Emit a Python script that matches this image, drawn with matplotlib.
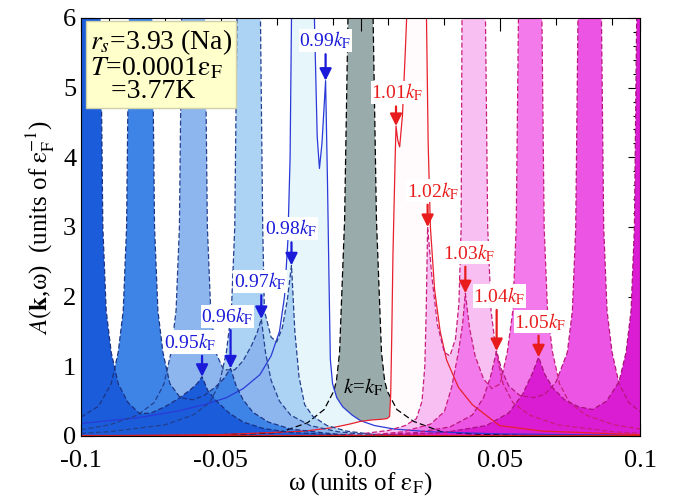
import matplotlib
matplotlib.use("Agg")
import matplotlib.pyplot as plt
from matplotlib.ticker import MultipleLocator, FixedLocator, FixedFormatter

plt.rcParams['font.family'] = ['Liberation Serif', 'DejaVu Serif']
plt.rcParams['mathtext.fontset'] = 'stix'

# spectral functions A(k, w), one per k
w95 = [-0.1, -0.0972, -0.0930, -0.0922, -0.0910, -0.0892, -0.0867, -0.0832, -0.0790, -0.0750, -0.0700,
       -0.0650, -0.0610, -0.0585, -0.0567, -0.0545, -0.0515, -0.0470, -0.0420, -0.0350, -0.0250, -0.0100, 0.0]
a95 = [12, 16, 6.0, 3.0, 1.8, 1.2, 0.75, 0.48, 0.32, 0.33, 0.42,
       0.54, 0.66, 0.75, 0.85, 0.64, 0.50, 0.33, 0.20, 0.11, 0.05, 0.02, 0.0]

w96 = [-0.1, -0.0937, -0.0892, -0.0867, -0.0849, -0.0837, -0.0829, -0.0787, -0.0745, -0.0737, -0.0725,
       -0.0707, -0.0682, -0.0645, -0.0600, -0.0560, -0.0520, -0.0490, -0.0465, -0.0445, -0.0420, -0.0385,
       -0.0330, -0.0250, -0.0120, 0.0]
a96 = [0.27, 0.43, 0.75, 1.2, 1.8, 3.0, 6.0, 16, 6.0, 3.0, 1.8,
       1.2, 0.75, 0.55, 0.52, 0.58, 0.70, 0.82, 0.97, 0.72, 0.52, 0.34,
       0.20, 0.10, 0.04, 0.0]

w97 = [-0.1, -0.0898, -0.0798, -0.0738, -0.0703, -0.0678, -0.0660, -0.0648, -0.0640, -0.0598, -0.0556,
       -0.0548, -0.0536, -0.0518, -0.0490, -0.0450, -0.0420, -0.0390, -0.0370, -0.0355, -0.0340, -0.0320,
       -0.0290, -0.0250, -0.0180, -0.0080, 0.0, 0.02]
a97 = [0.09, 0.16, 0.30, 0.48, 0.75, 1.2, 1.8, 3.0, 6.0, 16, 6.0,
       3.0, 1.8, 1.2, 0.95, 0.95, 1.08, 1.30, 1.48, 1.68, 1.20, 0.80,
       0.50, 0.30, 0.15, 0.06, 0.03, 0.0]

w98 = [-0.1, -0.09, -0.07, -0.060, -0.054, -0.0505, -0.0480, -0.0462, -0.0450, -0.0442, -0.0400,
       -0.0358, -0.0350, -0.0344, -0.0320, -0.0300, -0.0280, -0.0262, -0.0247, -0.0235, -0.0220,
       -0.0200, -0.0170, -0.0120, -0.0050, 0.0050, 0.0200]
a98 = [0.04, 0.06, 0.16, 0.30, 0.48, 0.75, 1.2, 1.8, 3.0, 6.0, 16,
       6.0, 3.0, 1.8, 1.42, 1.35, 1.55, 1.95, 2.45, 1.50, 0.85,
       0.45, 0.28, 0.15, 0.07, 0.02, 0.0]

w99 = [-0.1, -0.08, -0.065, -0.055, -0.048, -0.042, -0.036, -0.032, -0.029, -0.0272, -0.0260,
       -0.0252, -0.0247, -0.0205, -0.0165, -0.0155, -0.0147, -0.0138, -0.0125, -0.0118, -0.0113,
       -0.0108, -0.0100, -0.0085, -0.0064, -0.0030, 0.0, 0.005, 0.012, 0.025, 0.05, 0.1]
a99 = [0.18, 0.26, 0.36, 0.46, 0.55, 0.68, 0.88, 1.15, 1.5, 2.0, 2.8,
       4.0, 6.0, 16, 6.0, 4.3, 3.84, 4.2, 5.1, 3.6, 2.3,
       1.1, 0.75, 0.55, 0.42, 0.30, 0.22, 0.15, 0.10, 0.06, 0.03, 0.01]

w100 = [-0.1, -0.06, -0.04, -0.029, -0.019, -0.013, -0.0095, -0.0086, -0.0075, -0.0057, -0.0045, 0.0,
        0.0045, 0.0057, 0.0075, 0.0086, 0.0095, 0.013, 0.019, 0.029, 0.04, 0.06, 0.1]
a100 = [0.0, 0.01, 0.03, 0.05, 0.19, 0.38, 0.65, 0.8, 1.2, 3.1, 6.0, 16,
        6.0, 3.1, 1.2, 0.8, 0.65, 0.38, 0.21, 0.06, 0.03, 0.01, 0.0]

w101 = [-0.1, -0.05, -0.02, -0.01, -0.004, 0.0, 0.004, 0.0075, 0.0095, 0.0104, 0.0108, 0.0112,
        0.0116, 0.0120, 0.0124, 0.0127, 0.0133, 0.0140, 0.0150, 0.0160, 0.0165, 0.0197, 0.0236,
        0.0242, 0.0250, 0.0265, 0.0285, 0.0308, 0.035, 0.040, 0.0497, 0.065, 0.1]
a101 = [0.0, 0.02, 0.07, 0.12, 0.17, 0.21, 0.23, 0.24, 0.25, 0.28, 0.6, 1.5,
        2.6, 3.3, 4.0, 4.45, 4.25, 4.15, 4.6, 5.5, 6.0, 16, 6.0,
        4.2, 3.0, 2.1, 1.5, 1.09, 0.70, 0.45, 0.15, 0.07, 0.02]

w102 = [-0.02, 0.0, 0.01, 0.016, 0.0200, 0.0220, 0.0230, 0.0235, 0.0240, 0.0255, 0.0275, 0.0300,
        0.0320, 0.0340, 0.0352, 0.0360, 0.0363, 0.0405, 0.0447, 0.0455, 0.0467, 0.0485, 0.0510,
        0.0545, 0.0605, 0.0705, 0.0905, 0.1]
a102 = [0.0, 0.03, 0.08, 0.15, 0.25, 0.5, 1.0, 1.8, 3.0, 2.3, 1.6, 1.2,
        1.15, 1.4, 1.9, 3.0, 6.0, 16, 6.0, 3.0, 1.8, 1.2, 0.75,
        0.48, 0.30, 0.16, 0.06, 0.04]

w103 = [0.0, 0.015, 0.025, 0.030, 0.0326, 0.0350, 0.0365, 0.0375, 0.0390, 0.0410, 0.0440, 0.0470,
        0.0500, 0.0525, 0.0545, 0.0557, 0.0565, 0.0607, 0.0649, 0.0657, 0.0669, 0.0687, 0.0712,
        0.0747, 0.0807, 0.0907, 0.1]
a103 = [0.0, 0.06, 0.17, 0.35, 0.7, 1.2, 1.6, 2.05, 1.55, 1.15, 0.82, 0.68,
        0.75, 1.2, 1.8, 3.0, 6.0, 16, 6.0, 3.0, 1.8, 1.2, 0.75,
        0.48, 0.30, 0.16, 0.10]

w104 = [0.0, 0.02, 0.032, 0.040, 0.044, 0.0465, 0.0487, 0.0505, 0.0530, 0.0570, 0.0620, 0.0660,
        0.0700, 0.0740, 0.0758, 0.0770, 0.0778, 0.0820, 0.0862, 0.0870, 0.0882, 0.0900, 0.0925,
        0.0960, 0.1]
a104 = [0.0, 0.05, 0.13, 0.30, 0.55, 0.85, 1.22, 0.95, 0.72, 0.58, 0.55, 0.60,
        0.78, 1.2, 1.8, 3.0, 6.0, 16, 6.0, 3.0, 1.8, 1.2, 0.75,
        0.48, 0.35]

w105 = [0.0, 0.03, 0.045, 0.053, 0.058, 0.0615, 0.0637, 0.0660, 0.0690, 0.0730, 0.0780, 0.0830,
        0.0880, 0.0925, 0.0950, 0.0968, 0.0980, 0.0988, 0.103]
a105 = [0.0, 0.05, 0.15, 0.33, 0.60, 0.90, 1.13, 0.88, 0.68, 0.52, 0.42, 0.38,
        0.50, 0.78, 1.2, 1.8, 3.0, 6.0, 16]

# arrowed peaks: position, height, label position
k_labels = ['0.95', '0.96', '0.97', '0.98', '0.99', '1.01', '1.02', '1.03', '1.04', '1.05']
peak_w = [-0.0567, -0.0465, -0.0355, -0.0247, -0.0125, 0.0127, 0.0240, 0.0375, 0.0487, 0.0637]
peak_a = [0.85, 0.97, 1.68, 2.45, 5.1, 4.45, 3.0, 2.05, 1.22, 1.13]
label_w = [-0.0608, -0.0476, -0.0361, -0.0247, -0.0125, 0.0132, 0.0258, 0.0390, 0.0497, 0.0644]
label_a = [1.35, 1.72, 2.22, 2.98, 5.68, 4.93, 3.52, 2.63, 2.01, 1.64]

fig = plt.figure(figsize=(6.73, 4.98), dpi=100)
ax = fig.add_axes([0.1204, 0.1245, 0.8306, 0.8394])

curves = [
    # w, a, fill, line colour, dashes, zorder
    (w100, a100, '#9aabab', 'black', (0, (5, 2.5)), 1),
    (w99, a99, '#e6f6fb', '#2a3ad8', '-', 2),
    (w101, a101, '#fffbfd', '#e8202e', '-', 2),
    (w98, a98, '#acd3f4', '#24408f', (0, (4, 2)), 3),
    (w102, a102, '#f8bff2', '#c81e7c', (0, (4, 2)), 3),
    (w97, a97, '#8db6ee', '#24408f', (0, (4, 2)), 4),
    (w103, a103, '#f27aea', '#c81e7c', (0, (4, 2)), 4),
    (w96, a96, '#3d84e6', '#1c3585', (0, (4, 2)), 5),
    (w104, a104, '#ec55e3', '#b8167c', (0, (4, 2)), 5),
    (w95, a95, '#1b5cda', '#1c3080', (0, (4, 2)), 6),
    (w105, a105, '#da1cd3', '#a8127c', (0, (4, 2)), 6),
]
for w, a, fc, lc, ls, z in curves:
    ax.fill_between(w, 0, a, color=fc, lw=0, zorder=z)
for w, a, fc, lc, ls, z in curves:
    ax.plot(w, a, color=lc, ls=ls, lw=0.9, zorder=7)

ax.axhline(0, color='#e02020', lw=1.6, zorder=7)

for i, lab in enumerate(k_labels):
    c = '#1a1ad8' if float(lab) < 1 else '#e81c1c'
    ax.text(label_w[i], label_a[i], lab + r'$k_\mathrm{F}$', color=c, fontsize=14,
            ha='center', va='center', zorder=9,
            bbox=dict(facecolor='white', edgecolor='none', pad=0.6))
    ax.annotate('', xy=(peak_w[i], peak_a[i]), xytext=(peak_w[i], label_a[i] - 0.2),
                arrowprops=dict(arrowstyle='-|>', color=c, lw=1.6, mutation_scale=18,
                                shrinkA=0, shrinkB=0), zorder=9)

ax.text(0.001, 0.69, r'$k$=$k_\mathrm{F}$', color='black', fontsize=15,
        ha='center', va='center', zorder=9)

ax.text(0.016, 0.978, r'$r_s$=3.93 (Na)' + '\n' + r'$T$=0.0001$\mathrm{\varepsilon_F}$' + '\n' + '   =3.77K',
        transform=ax.transAxes, fontsize=20, va='top', ha='left', zorder=10, linespacing=0.9,
        bbox=dict(facecolor='#ffffcc', edgecolor='#d0d0a8', pad=3))

ax.set_xlim(-0.1, 0.1)
ax.set_ylim(0, 6)
ax.xaxis.set_major_locator(FixedLocator([-0.1, -0.05, 0.0, 0.05, 0.1]))
ax.xaxis.set_major_formatter(FixedFormatter(['-0.1', '-0.05', '0.0', '0.05', '0.1']))
ax.xaxis.set_minor_locator(MultipleLocator(0.01))
ax.yaxis.set_major_locator(MultipleLocator(1))
ax.yaxis.set_minor_locator(MultipleLocator(0.2))
ax.tick_params(which='both', direction='in', top=True, right=True, labelsize=19)
ax.tick_params(which='major', length=9, width=0.8)
ax.tick_params(which='minor', length=5, width=0.8)
ax.tick_params(axis='x', pad=10)
for s in ax.spines.values():
    s.set_zorder(11)

ax.set_xlabel(r'ω (units of $\mathrm{\varepsilon_F}$)', fontsize=18, labelpad=-1)
ax.set_ylabel(r'$A(\mathbf{k}$,ω)  (units of $\mathrm{\varepsilon_F^{-1}}$)', fontsize=18, labelpad=4)

fig.savefig('out.png', dpi=100)
